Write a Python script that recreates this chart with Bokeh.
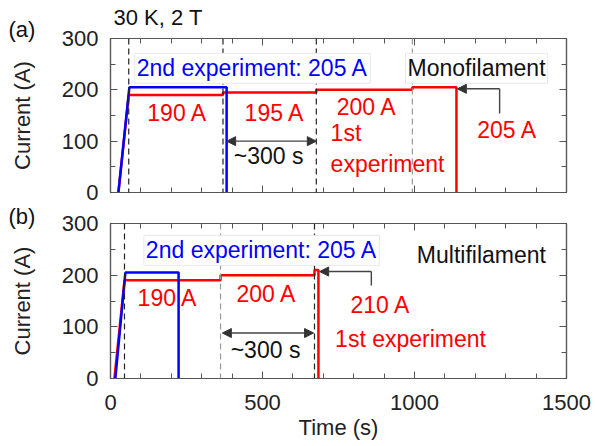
from bokeh.plotting import figure
from bokeh.layouts import column
from bokeh.models import (Label, Span, Arrow, NormalHead, LinearAxis, FixedTicker,
                          Range1d, CustomJSTickFormatter, Title)
from bokeh.embed import file_html
from bokeh.resources import INLINE

# ---------------- data ----------------
# (a) Monofilament
mono_t_1st = [26, 60, 370, 370, 677, 677, 993, 993, 1138, 1138]
mono_i_1st = [0, 190, 190, 195, 195, 200, 200, 205, 205, 0]
mono_t_2nd = [26, 62, 382, 382]
mono_i_2nd = [0, 205, 205, 0]
mono_dash_black = [60, 370, 677]
mono_dash_gray = [993]

# (b) Multifilament
multi_t_1st = [13, 46, 362, 362, 671, 671, 684, 684]
multi_i_1st = [0, 190, 190, 200, 200, 210, 210, 0]
multi_t_2nd = [16, 49, 224, 224]
multi_i_2nd = [0, 205, 205, 0]
multi_dash_black = [46, 671]
multi_dash_gray = [362]

x_ticks = [0, 500, 1000, 1500]
x_minor = list(range(0, 1501, 100))
y_ticks = [0, 100, 200, 300]
y_minor = list(range(0, 301, 50))

FONT = "Liberation Sans"
FS = "22px"     # tick / axis labels
AFS = "23px"    # annotations
RED = "#ff0000"
BLUE = "#0000ff"
AXC = "#555555"
W = 595


def style_axis(ax, blank):
    ax.axis_line_color = AXC
    ax.axis_line_width = 1.2
    ax.major_tick_line_color = AXC
    ax.minor_tick_line_color = AXC
    ax.major_tick_in = 7
    ax.major_tick_out = 0
    ax.minor_tick_in = 5
    ax.minor_tick_out = 0
    ax.major_label_text_font = FONT
    ax.major_label_text_color = "#222222"
    ax.axis_label_text_font = FONT
    ax.axis_label_text_font_size = FS
    ax.axis_label_text_font_style = "normal"
    ax.axis_label_text_color = "#222222"
    if blank:
        ax.formatter = CustomJSTickFormatter(code="return ''")
        ax.major_label_text_font_size = "1px"
        ax.major_label_standoff = 0
    else:
        ax.major_label_text_font_size = FS


def make_fig(height, top, bottom, x_labels):
    p = figure(width=W, height=height, x_range=Range1d(0, 1500), y_range=Range1d(0, 300),
               output_backend="svg", toolbar_location=None,
               x_axis_type=None, y_axis_type=None,
               min_border_left=110, min_border_right=29,
               min_border_top=top, min_border_bottom=bottom)
    p.outline_line_color = AXC
    p.outline_line_width = 1.2
    p.background_fill_color = "white"
    p.border_fill_color = "white"
    xt = FixedTicker(ticks=x_ticks, minor_ticks=x_minor)
    yt = FixedTicker(ticks=y_ticks, minor_ticks=y_minor)

    bx = LinearAxis(ticker=xt)
    style_axis(bx, not x_labels)
    if x_labels:
        bx.axis_label = "Time (s)"
        bx.major_label_standoff = 16
        bx.axis_label_standoff = 2
    p.add_layout(bx, "below")

    ax_ = LinearAxis(ticker=xt)
    style_axis(ax_, True)
    p.add_layout(ax_, "above")

    ly = LinearAxis(ticker=yt)
    style_axis(ly, False)
    ly.axis_label = "Current (A)"
    ly.major_label_standoff = 12
    ly.axis_label_standoff = 24
    p.add_layout(ly, "left")

    ry = LinearAxis(ticker=yt)
    style_axis(ry, True)
    p.add_layout(ry, "right")
    return p


def title(p, text, offset, standoff):
    p.add_layout(Title(text=text, align="left", offset=offset, standoff=standoff,
                       text_font=FONT, text_font_size=FS, text_font_style="normal",
                       text_color="#111111"), "above")


def label(p, x, y, text, color="#111111", align="center", box=False, size=AFS):
    kw = dict(x=x, y=y, text=text, text_color=color, text_font=FONT, text_font_size=size,
              text_align=align, text_baseline="middle")
    if box:
        kw.update(background_fill_color="white", border_line_color="#e8e8e8", padding=2)
    p.add_layout(Label(**kw))


def dashes(p, black, gray):
    for t in black:
        p.add_layout(Span(location=t, dimension="height", line_color="#222222",
                          line_dash="6 4", line_width=1.2))
    for t in gray:
        p.add_layout(Span(location=t, dimension="height", line_color="#999999",
                          line_dash="6 4", line_width=1.2))


def arrow(p, x0, y0, x1, y1, both=False):
    head = lambda: NormalHead(size=9, fill_color="#333333", line_color="#333333")
    kw = dict(x_start=x0, y_start=y0, x_end=x1, y_end=y1, line_color="#444444",
              line_width=1.4, end=head())
    kw["start"] = head() if both else None
    p.add_layout(Arrow(**kw))


# ---------------- panel (a) ----------------
pa = make_fig(205, 38, 13, False)
title(pa, "(a)", -102, -6)
title(pa, "30 K, 2 T", 3, -25)
dashes(pa, mono_dash_black, mono_dash_gray)
pa.line(mono_t_1st, mono_i_1st, line_color=RED, line_width=2.5)
pa.line(mono_t_2nd, mono_i_2nd, line_color=BLUE, line_width=2.5)
arrow(pa, 382, 100, 677, 100, both=True)
pa.line([1280, 1280], [154, 202], line_color="#444444", line_width=1.4)
arrow(pa, 1280, 202, 1141, 202)
label(pa, 467, 242, "2nd experiment: 205 A", BLUE, box=True)
label(pa, 1204, 242, "Monofilament", "#111111", box=True)
label(pa, 220, 154, "190 A", RED)
label(pa, 540, 154, "195 A", RED)
label(pa, 843, 166, "200 A", RED)
label(pa, 724, 115, "1st", RED, align="left")
label(pa, 724, 56, "experiment", RED, align="left")
label(pa, 1305, 121, "205 A", RED)
label(pa, 520, 72, "~300 s", "#111111")

# ---------------- panel (b) ----------------
pb = make_fig(241, 18, 68, True)
title(pb, "(b)", -102, -10)
dashes(pb, multi_dash_black, multi_dash_gray)
pb.line(multi_t_1st, multi_i_1st, line_color=RED, line_width=2.5)
pb.line(multi_t_2nd, multi_i_2nd, line_color=BLUE, line_width=2.5)
arrow(pb, 368, 88, 668, 88, both=True)
pb.line([858, 858], [180, 207], line_color="#444444", line_width=1.4)
arrow(pb, 858, 207, 688, 207)
label(pb, 497, 248, "2nd experiment: 205 A", BLUE, box=True)
label(pb, 1220, 240, "Multifilament", "#111111")
label(pb, 188, 155, "190 A", RED)
label(pb, 513, 163, "200 A", RED)
label(pb, 888, 143, "210 A", RED)
label(pb, 987, 77, "1st experiment", RED)
label(pb, 510, 56, "~300 s", "#111111")

layout = column(pa, pb, spacing=0)
open("out.html", "w").write(file_html(layout, INLINE))
